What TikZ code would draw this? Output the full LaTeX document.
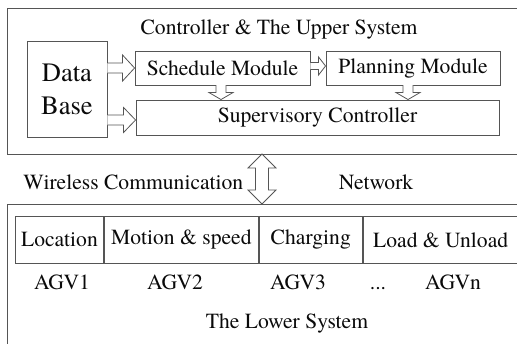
\documentclass[tikz,border=0pt]{standalone}
\usepackage{fontspec}
\setmainfont{TeX Gyre Termes}
\usetikzlibrary{calc}
\definecolor{ln}{RGB}{85,85,85}
\definecolor{tx}{RGB}{10,10,10}
\tikzset{
  box/.style={draw=ln, line width=0.9pt, inner sep=0pt, text=tx},
  lbl/.style={inner sep=0pt, text=tx, font=\fontsize{21.6}{25}\selectfont},
  arrowline/.style={draw=ln, line width=0.8pt, fill=white, line join=miter},
}
% block arrow from #1 to #2: half shaft #3, half head #4, head length #5
\newcommand\blkarrow[5]{%
  \coordinate (hh) at ($(#2)!#5!(#1)$);
  \draw[arrowline] ($(#1)!#3!90:(#2)$) -- ($(hh)!#3!-90:(#1)$) -- ($(hh)!#4!-90:(#1)$)
     -- (#2) -- ($(hh)!#4!90:(#1)$) -- ($(hh)!#3!90:(#1)$) -- ($(#1)!#3!-90:(#2)$);
}
\begin{document}
\begin{tikzpicture}[x=1pt,y=-1pt]
\useasboundingbox (0,0) rectangle (517,343);
\clip (0,0) rectangle (517,343);
% upper system
\node[box, minimum width=530pt, minimum height=146pt, anchor=north west] (upper) at (7,8) {};
\node[lbl] (title) at (279,29) {Controller \& The Upper System};
\node[box, minimum width=80pt, minimum height=96pt, align=center,
      font=\fontsize{26.5}{33}\selectfont] (db) at (67,89) {Data\\Base};
\node[box, lbl, draw=ln, minimum width=175pt, minimum height=34pt] (sched) at (222.5,68) {Schedule Module};
\node[box, lbl, draw=ln, minimum width=174pt, minimum height=34pt] (plan) at (413,68) {Planning Module};
\node[box, lbl, draw=ln, minimum width=363pt, minimum height=35pt] (sup) at (317.5,117.5) {Supervisory Controller};
% arrows in the upper system
\coordinate (a1) at (db.east |- sched.west);
\blkarrow{a1}{sched.west}{5pt}{13pt}{12pt}
\coordinate (a2s) at ($(db.east)+(0,31)$);
\coordinate (a2e) at (sup.west |- a2s);
\blkarrow{a2s}{a2e}{5pt}{12.5pt}{12pt}
\coordinate (a3s) at ($(sched.east)+(0,-2)$);
\coordinate (a3e) at (plan.west |- a3s);
\blkarrow{a3s}{a3e}{3.5pt}{9pt}{7pt}
\coordinate (a4s) at (221,85);
\coordinate (a4e) at (a4s |- sup.north);
\blkarrow{a4s}{a4e}{5pt}{12pt}{7pt}
\coordinate (a5s) at (408,85);
\coordinate (a5e) at (a5s |- sup.north);
\blkarrow{a5s}{a5e}{5pt}{12pt}{7pt}
% lower system
\node[box, minimum width=530pt, minimum height=160pt, anchor=north west] (lower) at (7,204) {};
% double arrow between the systems
\coordinate (dt) at (262,154);
\coordinate (db2) at (262,204);
\draw[arrowline] (dt) -- (276,168) -- (268.5,168) -- (268.5,190) -- (276,190) -- (db2)
   -- (248,190) -- (255.5,190) -- (255.5,168) -- (248,168) -- cycle;
\node[lbl, anchor=east] (wc) at (243.5,182) {Wireless Communication};
\node[lbl] (net) at (376,182) {Network};
% table
\node[box, lbl, minimum width=88pt, minimum height=47pt, anchor=north west] (c1) at (15,216) {Location};
\node[box, lbl, minimum width=154pt, minimum height=47pt, anchor=north west] (c2) at (c1.north east) {Motion \& speed};
\node[box, lbl, minimum width=103pt, minimum height=47pt, anchor=north west] (c3) at (c2.north east) {Charging};
\node[box, lbl, minimum width=155pt, minimum height=47pt, anchor=north west] (c4) at (c3.north east) {Load \& Unload};
\node[lbl, anchor=base] (g1) at (62,289) {AGV1};
\node[lbl, anchor=base] (g2) at (175,289) {AGV2};
\node[lbl, anchor=base] (g3) at (298,289) {AGV3};
\node[lbl, anchor=base] (g4) at (378,289) {...};
\node[lbl, anchor=base] (g5) at (453,289) {AGVn};
\node[lbl] (lowt) at (287,323) {The Lower System};
\end{tikzpicture}
\end{document}
